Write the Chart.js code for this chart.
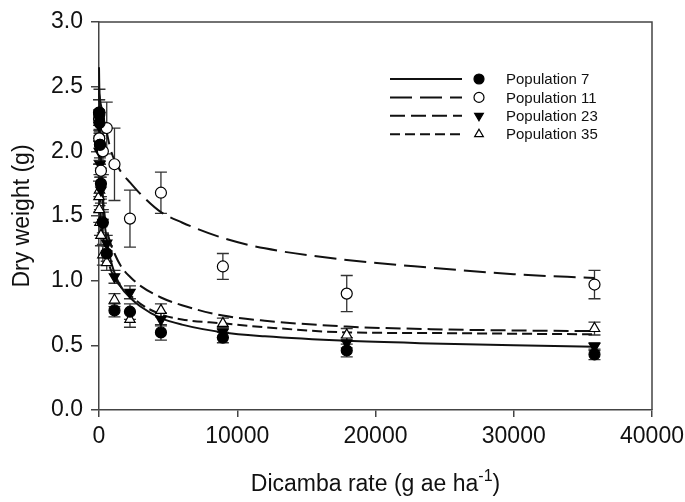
<!DOCTYPE html>
<html>
<head>
<meta charset="utf-8">
<title>Dicamba dose response</title>
<script src="https://cdn.jsdelivr.net/npm/chart.js@4.4.1/dist/chart.umd.min.js"></script>
<style>
    body { margin: 0; background: #fff; }
    #caixa { width: 685px; height: 502px; }
</style>
</head>
<body>
<div id="caixa"><canvas id="grafico" width="685" height="502"></canvas></div>
<script>

// doses (g ae ha-1) das medias observadas
const doses = [0, 17.5, 35, 70, 140, 280, 560, 1120, 2240, 4480, 8960, 17920, 35840];

// medias e erro padrao
const pop7 = [2.30, 2.28, 2.22, 2.05, 1.75, 1.45, 1.21, 0.77, 0.76, 0.60, 0.56, 0.46, 0.43];
const erro7 = [0.10, 0.12, 0.08, 0.10, 0.12, 0.10, 0.06, 0.05, 0.06, 0.06, 0.04, 0.05, 0.04];

const pop11 = [2.25, 2.10, 2.30, 2.05, 1.85, 2.00, 2.18, 1.90, 1.48, 1.68, 1.11, 0.90, 0.97];
const erro11 = [0.15, 0.20, 0.18, 0.15, 0.20, 0.18, 0.20, 0.28, 0.22, 0.16, 0.10, 0.14, 0.11];

const pop23 = [2.20, 2.00, 2.05, 1.90, 1.70, 1.45, 1.29, 1.03, 0.91, 0.70, 0.60, 0.52, 0.49];
const erro23 = [0.12, 0.10, 0.12, 0.10, 0.10, 0.08, 0.06, 0.05, 0.05, 0.05, 0.04, 0.04, 0.03];

const pop35 = [1.65, 1.55, 1.70, 1.45, 1.35, 1.20, 1.14, 0.85, 0.70, 0.77, 0.67, 0.58, 0.63];
const erro35 = [0.12, 0.10, 0.12, 0.10, 0.08, 0.08, 0.06, 0.05, 0.06, 0.05, 0.04, 0.05, 0.05];

const curvaX = [0, 50, 100, 200, 350, 560, 800, 1120, 1600, 2240, 3000, 4480, 6000, 8960, 12000, 17920, 24000, 30000, 35840];
const curva7 = [2.65, 2.30, 2.05, 1.75, 1.50, 1.32, 1.18, 1.06, 0.95, 0.87, 0.80, 0.71, 0.66, 0.60, 0.57, 0.535, 0.515, 0.50, 0.49];
const curva11 = [2.45, 2.42, 2.38, 2.33, 2.26, 2.15, 2.03, 1.93, 1.84, 1.76, 1.67, 1.53, 1.45, 1.33, 1.25, 1.16, 1.10, 1.05, 1.02];
const curva23 = [2.50, 2.20, 2.00, 1.78, 1.56, 1.40, 1.30, 1.21, 1.11, 1.03, 0.96, 0.87, 0.81, 0.73, 0.69, 0.645, 0.625, 0.615, 0.61];
const curva35 = [1.80, 1.65, 1.55, 1.42, 1.30, 1.19, 1.10, 1.02, 0.95, 0.89, 0.82, 0.74, 0.70, 0.67, 0.64, 0.60, 0.595, 0.59, 0.585];

const nomes = ['Population 7', 'Population 11', 'Population 23', 'Population 35'];
const ticksX = [0, 10000, 20000, 30000, 40000];
const ticksY = [0, 0.5, 1.0, 1.5, 2.0, 2.5, 3.0];

const fonte = '"Liberation Sans", Arial, sans-serif';

function juntar(xs, ys) {
    let pts = [];
    for (let i = 0; i < xs.length; i++) {
        pts.push({ x: xs[i], y: ys[i] });
    }
    return pts;
}

// estilo de cada populacao
const estilos = [
    { ponto: 'circle', rot: 0, fundo: '#000', raio: 5.5, dash: [] },
    { ponto: 'circle', rot: 0, fundo: '#fff', raio: 5.5, dash: [22, 8] },
    { ponto: 'triangle', rot: 180, fundo: '#000', raio: 6, dash: [15, 6] },
    { ponto: 'triangle', rot: 0, fundo: '#fff', raio: 6, dash: [10, 5] }
];

const medias = [pop7, pop11, pop23, pop35];
const erros = [erro7, erro11, erro23, erro35];
const curvas = [curva7, curva11, curva23, curva35];

// barras de erro
const pluginErros = {
    id: 'erros',
    beforeDatasetsDraw(chart) {
        const ctx = chart.ctx;
        const sx = chart.scales.x;
        const sy = chart.scales.y;
        ctx.save();
        ctx.strokeStyle = '#333';
        ctx.lineWidth = 1.3;
        chart.data.datasets.forEach(ds => {
            if (!ds.erros) return;
            for (let i = 0; i < ds.data.length; i++) {
                const px = sx.getPixelForValue(ds.data[i].x);
                const y1 = sy.getPixelForValue(ds.data[i].y - ds.erros[i]);
                const y2 = sy.getPixelForValue(ds.data[i].y + ds.erros[i]);
                ctx.beginPath();
                ctx.moveTo(px, y1); ctx.lineTo(px, y2);
                ctx.moveTo(px - 6, y1); ctx.lineTo(px + 6, y1);
                ctx.moveTo(px - 6, y2); ctx.lineTo(px + 6, y2);
                ctx.stroke();
            }
        });
        ctx.restore();
    }
};

// moldura de cima e da direita
const pluginMoldura = {
    id: 'moldura',
    beforeDatasetsDraw(chart) {
        const a = chart.chartArea;
        const ctx = chart.ctx;
        ctx.save();
        ctx.strokeStyle = '#444';
        ctx.lineWidth = 1.5;
        ctx.beginPath();
        ctx.moveTo(a.left, a.top);
        ctx.lineTo(a.right, a.top);
        ctx.lineTo(a.right, a.bottom);
        ctx.stroke();
        ctx.restore();
    }
};

function desenharMarcador(ctx, est, x, y, r) {
    ctx.save();
    ctx.fillStyle = est.fundo;
    ctx.strokeStyle = '#000';
    ctx.lineWidth = 1.2;
    ctx.beginPath();
    if (est.ponto === 'circle') {
        ctx.arc(x, y, r, 0, Math.PI * 2);
    } else {
        const s = est.rot === 180 ? -1 : 1;
        ctx.moveTo(x, y - s * r);
        ctx.lineTo(x + r * 0.87, y + s * r * 0.5);
        ctx.lineTo(x - r * 0.87, y + s * r * 0.5);
        ctx.closePath();
    }
    ctx.fill();
    ctx.stroke();
    ctx.restore();
}

// legenda com linha + marcador
const pluginLegenda = {
    id: 'legenda',
    afterDatasetsDraw(chart) {
        const ctx = chart.ctx;
        for (let i = 0; i < nomes.length; i++) {
            const y = 79 + i * 18.4;
            ctx.save();
            ctx.strokeStyle = '#111';
            ctx.lineWidth = 2;
            ctx.setLineDash(estilos[i].dash);
            ctx.beginPath();
            ctx.moveTo(390, y);
            ctx.lineTo(462, y);
            ctx.stroke();
            ctx.restore();
            desenharMarcador(ctx, estilos[i], 479, y, 5);
            ctx.save();
            ctx.fillStyle = '#111';
            ctx.font = '15px ' + fonte;
            ctx.textBaseline = 'middle';
            ctx.fillText(nomes[i], 506, y + 1);
            ctx.restore();
        }
    }
};

// titulo do eixo x com expoente
const pluginTituloX = {
    id: 'tituloX',
    afterDraw(chart) {
        const ctx = chart.ctx;
        const a = chart.chartArea;
        const t1 = 'Dicamba rate (g ae ha';
        const sup = '-1';
        const t2 = ')';
        ctx.save();
        ctx.fillStyle = '#111';
        ctx.textBaseline = 'alphabetic';
        ctx.font = '23px ' + fonte;
        const w1 = ctx.measureText(t1).width;
        const w3 = ctx.measureText(t2).width;
        ctx.font = '16px ' + fonte;
        const w2 = ctx.measureText(sup).width;
        let x = (a.left + a.right) / 2 - (w1 + w2 + w3) / 2;
        const base = 491;
        ctx.font = '23px ' + fonte;
        ctx.fillText(t1, x, base);
        ctx.font = '16px ' + fonte;
        ctx.fillText(sup, x + w1, base - 10);
        ctx.font = '23px ' + fonte;
        ctx.fillText(t2, x + w1 + w2, base);
        ctx.restore();
    }
};

function plotarGrafico() {
    let datasets = [];

    for (let i = 0; i < nomes.length; i++) {
        datasets.push({
            label: nomes[i],
            data: juntar(doses, medias[i]),
            erros: erros[i],
            pointStyle: estilos[i].ponto,
            rotation: estilos[i].rot,
            pointRadius: estilos[i].raio,
            pointBackgroundColor: estilos[i].fundo,
            pointBorderColor: '#000',
            pointBorderWidth: 1.2,
            showLine: false,
            clip: false,
            order: 0
        });
    }

    for (let i = 0; i < nomes.length; i++) {
        datasets.push({
            label: nomes[i] + ' ajuste',
            data: juntar(curvaX, curvas[i]),
            showLine: true,
            borderColor: '#111',
            borderWidth: 2,
            borderDash: estilos[i].dash,
            pointRadius: 0,
            cubicInterpolationMode: 'monotone',
            fill: false,
            clip: false,
            order: 1
        });
    }

    new Chart(document.getElementById('grafico'), {
        type: 'scatter',
        data: { datasets: datasets },
        options: {
            responsive: false,
            animation: false,
            layout: {
                padding: { top: 22, right: 33, left: 0, bottom: 0 }
            },
            plugins: {
                legend: { display: false },
                title: { display: false },
                tooltip: { enabled: false }
            },
            scales: {
                x: {
                    type: 'linear',
                    min: 0,
                    max: 40000,
                    afterBuildTicks: (s) => { s.ticks = ticksX.map(v => ({ value: v })); },
                    afterFit: (s) => {
                        s.height = 92;
                        s.paddingLeft = 0;
                        s.paddingRight = 0;
                    },
                    ticks: {
                        color: '#111',
                        font: { size: 23, family: fonte },
                        padding: 6,
                        maxRotation: 0,
                        callback: (v) => String(v)
                    },
                    grid: { drawOnChartArea: false, tickLength: 7, color: '#444', lineWidth: 1.5 },
                    border: { color: '#444', width: 1.5 }
                },
                y: {
                    min: 0,
                    max: 3,
                    afterBuildTicks: (s) => { s.ticks = ticksY.map(v => ({ value: v })); },
                    afterFit: (s) => {
                        s.width = 99;
                        s.paddingTop = 0;
                        s.paddingBottom = 0;
                    },
                    ticks: {
                        color: '#111',
                        font: { size: 23, family: fonte },
                        padding: 8,
                        callback: (v) => Number(v).toFixed(1)
                    },
                    grid: { drawOnChartArea: false, tickLength: 8, color: '#444', lineWidth: 1.5 },
                    border: { color: '#444', width: 1.5 },
                    title: {
                        display: true,
                        text: 'Dry weight (g)',
                        color: '#111',
                        font: { size: 23, family: fonte },
                        padding: { top: 9, bottom: 0 }
                    }
                }
            }
        },
        plugins: [pluginMoldura, pluginErros, pluginLegenda, pluginTituloX]
    });
}

window.onload = () => {
    plotarGrafico();
};
</script>
</body>
</html>
